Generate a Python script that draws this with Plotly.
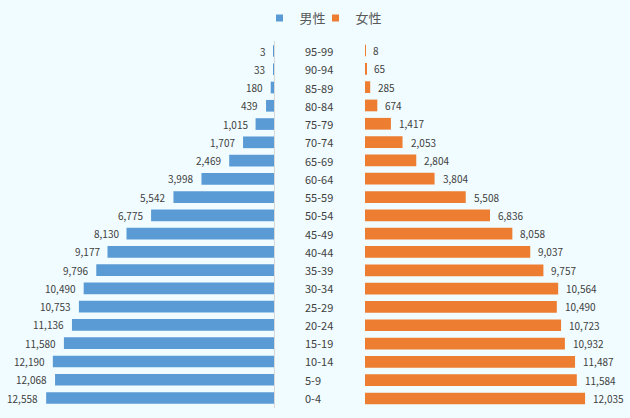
import plotly.graph_objects as go

ages = ["95-99", "90-94", "85-89", "80-84", "75-79", "70-74", "65-69", "60-64",
        "55-59", "50-54", "45-49", "40-44", "35-39", "30-34", "25-29", "20-24",
        "15-19", "10-14", "5-9", "0-4"]
male = [3, 33, 180, 439, 1015, 1707, 2469, 3998, 5542, 6775, 8130, 9177,
        9796, 10490, 10753, 11136, 11580, 12190, 12068, 12558]
female = [8, 65, 285, 674, 1417, 2053, 2804, 3804, 5508, 6836, 8058, 9037,
          9757, 10564, 10490, 10723, 10932, 11487, 11584, 12035]
series = ["男性", "女性"]
colors = ["#5B9BD5", "#ED7D31"]

FONT = "Noto Sans CJK JP"
TXT = "#404040"

fig = go.Figure()
fig.add_trace(go.Bar(
    y=ages, x=male, orientation="h", name=series[0], legendgroup="m",
    showlegend=False,
    marker=dict(color=colors[0], line=dict(width=0)),
    xaxis="x", yaxis="y",
))
fig.add_trace(go.Bar(
    y=ages, x=female, orientation="h", name=series[1], legendgroup="f",
    showlegend=False,
    marker=dict(color=colors[1], line=dict(width=0)),
    xaxis="x2", yaxis="y2",
))
# legend proxies with small square markers like the reference legend
for name, col, grp, xa, ya in zip(series, colors, ["m", "f"], ["x", "x2"], ["y", "y2"]):
    fig.add_trace(go.Scatter(
        x=[None], y=[None], mode="markers", name=name, legendgroup=grp,
        marker=dict(symbol="square", size=7, color=col),
        xaxis=xa, yaxis=ya, showlegend=True,
    ))

for a in ages:
    fig.add_annotation(x=303 / 630, xref="paper", y=a, yref="y", text=a,
                       showarrow=False, xanchor="left",
                       font=dict(size=11, color=TXT, family=FONT))
for a, v in zip(ages, male):
    fig.add_annotation(x=v, xref="x", y=a, yref="y", text=f"{v:,}",
                       showarrow=False, xanchor="right", xshift=-6,
                       font=dict(size=10, color=TXT, family=FONT))
for a, v in zip(ages, female):
    fig.add_annotation(x=v, xref="x2", y=a, yref="y2", text=f"{v:,}",
                       showarrow=False, xanchor="left", xshift=6,
                       font=dict(size=10, color=TXT, family=FONT))

ydom = [1 - 408 / 418, 1 - 41 / 418]
fig.update_layout(
    width=630, height=418,
    margin=dict(l=0, r=0, t=0, b=0),
    paper_bgcolor="#F0FCFF", plot_bgcolor="#F0FCFF",
    bargap=0.36,
    font=dict(family=FONT, color=TXT),
    showlegend=True,
    legend=dict(orientation="h", x=331 / 630, xanchor="center", y=1 - 18 / 418,
                yanchor="middle", font=dict(size=13, color="#595959", family=FONT),
                bgcolor="rgba(0,0,0,0)", itemwidth=30, indentation=-15,
                tracegroupgap=0, traceorder="normal"),
    xaxis=dict(domain=[20 / 630, 274 / 630], range=[14000, 0], showgrid=False,
               showticklabels=False, zeroline=False, showline=False, fixedrange=True),
    xaxis2=dict(domain=[365 / 630, 621 / 630], range=[0, 14000], showgrid=False,
                showticklabels=False, zeroline=False, showline=False, fixedrange=True),
    yaxis=dict(domain=ydom, anchor="x", side="right", autorange="reversed",
               categoryorder="array", categoryarray=ages, showticklabels=False,
               showgrid=False, zeroline=False, showline=True, linecolor="#D9D9D9",
               linewidth=1, ticks="", fixedrange=True),
    yaxis2=dict(domain=ydom, anchor="x2", autorange="reversed",
                categoryorder="array", categoryarray=ages, showticklabels=False,
                showgrid=False, zeroline=False, showline=False, ticks="",
                fixedrange=True),
)

fig.write_html("out.html", config={"displayModeBar": False},
               post_script="document.body.style.margin='0';")
